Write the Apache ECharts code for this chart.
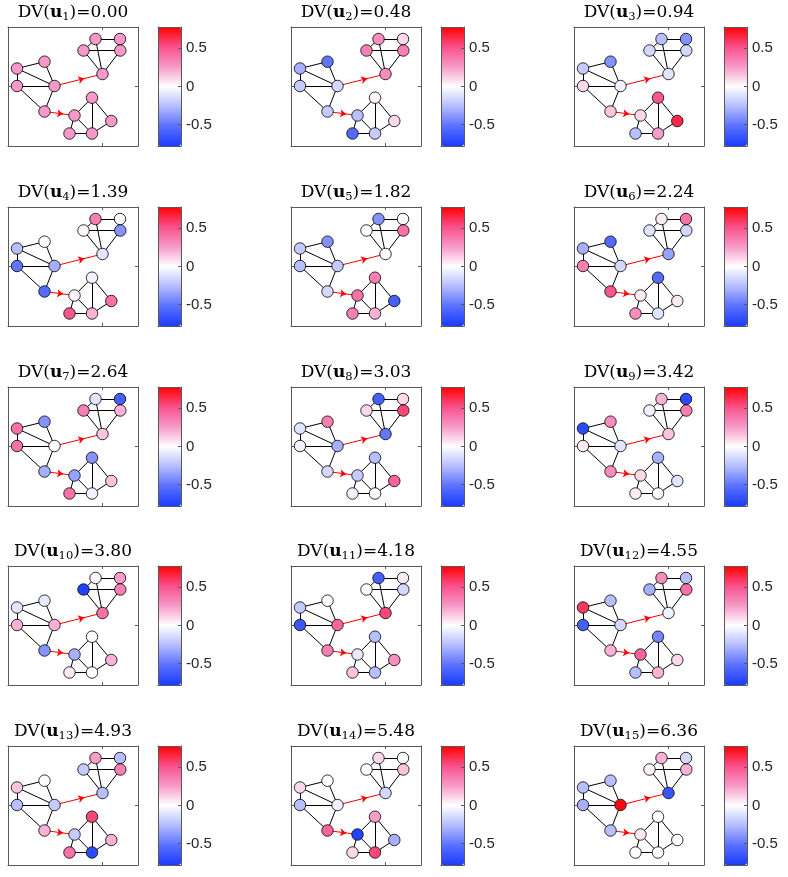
<!DOCTYPE html>
<html>
<head>
<meta charset="utf-8">
<title>DV of eigenvectors</title>
<script src="https://cdn.jsdelivr.net/npm/echarts@6/dist/echarts.min.js"></script>
<style>
html, body { margin: 0; padding: 0; background: #fff; }
#main { width: 788px; height: 877px; }
</style>
</head>
<body>
<div id="main"></div>
<script>
// graph layout (15 nodes: left cluster, top-right cluster, bottom-right cluster)
var nodeX = [-85.5, -58, -85.5, -48, -58,  -7, 17.5, -19, 17.8, 0,  -10.5, -28, 8.8, -33, -10.5];
var nodeY = [17.5, 24.3, 0, 0, -25.5,  47, 47, 35.5, 35.5, 12,  -11.7, -29.5, -35, -47.5, -47.5];
var edges = [[0,1],[0,2],[0,3],[1,3],[2,3],[2,4],[3,4],
             [5,6],[5,7],[5,9],[7,8],[7,9],[8,9],
             [10,11],[10,14],[10,12],[11,13],[11,14],[13,14],[12,14]];
var arcs = [[3,9],[4,11]];

// DV value of each eigenvector
var dv = [0.00, 0.48, 0.94, 1.39, 1.82, 2.24, 2.64, 3.03, 3.42, 3.80, 4.18, 4.55, 4.93, 5.48, 6.36];

// eigenvector entries per node
var u1  = [0.26, 0.26, 0.26, 0.26, 0.26, 0.26, 0.26, 0.26, 0.26, 0.26, 0.26, 0.26, 0.26, 0.26, 0.26];
var u2  = [-0.3, -0.5, -0.2, -0.15, -0.2, 0.3, 0.1, 0.35, 0.35, 0.3, 0.03, -0.25, 0.1, -0.55, -0.2];
var u3  = [-0.2, -0.4, 0.1, -0.05, 0.15, -0.25, -0.4, -0.15, -0.15, -0.1, 0.5, 0.1, 0.65, -0.25, 0.25];
var u4  = [-0.25, 0.0, -0.5, -0.3, -0.55, 0.35, 0.02, 0.02, -0.4, -0.1, -0.05, 0.02, 0.4, 0.5, 0.2];
var u5  = [-0.2, -0.4, -0.25, -0.2, -0.15, -0.4, 0.0, 0.0, 0.4, 0.0, 0.35, 0.4, -0.6, 0.35, 0.2];
var u6  = [-0.3, -0.55, 0.35, -0.15, 0.5, 0.05, 0.4, -0.1, -0.15, -0.35, -0.55, 0.05, 0.05, 0.3, -0.1];
var u7  = [0.4, -0.4, 0.4, 0.0, -0.3, -0.1, -0.6, 0.35, 0.2, 0.15, -0.4, -0.35, 0.15, 0.4, -0.05];
var u8  = [-0.1, 0.35, -0.05, -0.3, -0.15, -0.6, 0.1, 0.1, 0.55, -0.5, -0.25, -0.2, 0.45, -0.05, 0.0];
var u9  = [-0.7, 0.3, 0.05, -0.1, 0.3, 0.2, -0.7, -0.05, 0.35, 0.15, -0.3, 0.1, -0.1, 0.05, 0.0];
var u10 = [-0.1, -0.08, 0.2, 0.2, -0.4, 0.03, 0.25, -0.75, 0.35, 0.4, 0.0, -0.3, 0.2, 0.05, 0.0];
var u11 = [-0.2, 0.0, -0.65, 0.45, 0.35, -0.6, 0.05, 0.0, -0.15, 0.55, -0.25, -0.08, 0.3, 0.15, -0.25];
var u12 = [0.6, -0.25, -0.6, -0.15, 0.2, 0.3, -0.25, -0.3, 0.4, -0.05, -0.45, 0.45, 0.1, -0.25, 0.2];
var u13 = [0.15, 0.0, -0.25, -0.2, 0.2, 0.25, -0.25, -0.2, 0.35, -0.25, 0.55, -0.2, 0.2, 0.4, -0.7];
var u14 = [0.1, 0.0, -0.25, -0.05, 0.45, 0.1, 0.0, 0.0, 0.15, -0.15, 0.25, -0.75, -0.3, 0.1, 0.55];
var u15 = [-0.25, -0.25, -0.3, 0.75, -0.25, 0.2, -0.15, 0.03, 0.2, -0.65, 0.0, 0.05, 0.0, 0.0, 0.0];
var vectors = [u1, u2, u3, u4, u5, u6, u7, u8, u9, u10, u11, u12, u13, u14, u15];

var cbTicks = [-0.5, 0, 0.5];
var cbRange = [-0.78, 0.78];
var cmap = ['#1a3cff', '#5a70ff', '#b4bcff', '#ffffff', '#f799c8', '#f8508a', '#ff0000'];

var colLeft = [8, 291, 574];
var rowTop = [27, 207, 387, 566, 746];
var boxW = 130, boxH = 119, cbOff = 150, cbW = 23;
var frame = { color: '#595959', width: 1 };

var grid = [], xAxis = [], yAxis = [], series = [], title = [], visualMap = [];

function boxAxis(gi, pos, min, max, tickVals, showLabels) {
    return {
        gridIndex: gi, type: 'value', position: pos, min: min, max: max, z: 10,
        axisLine: { show: true, onZero: false, lineStyle: frame },
        axisTick: { show: tickVals.length > 0, inside: true, length: 3, customValues: tickVals, lineStyle: frame },
        axisLabel: {
            show: !!showLabels, customValues: tickVals, margin: 5,
            color: '#262626', fontFamily: 'Liberation Sans', fontSize: 15
        },
        splitLine: { show: false }
    };
}

function lerp(a, b, t) {
    return [nodeX[a] + (nodeX[b] - nodeX[a]) * t, nodeY[a] + (nodeY[b] - nodeY[a]) * t];
}

var rich = {
    n: { fontFamily: 'DejaVu Serif', fontSize: 17, fontWeight: 'normal', color: '#000', lineHeight: 21 },
    b: { fontFamily: 'DejaVu Serif', fontSize: 17, fontWeight: 'bold', color: '#000', lineHeight: 21 },
    s: { fontFamily: 'DejaVu Serif', fontSize: 11.5, fontWeight: 'normal', color: '#000', lineHeight: 12, verticalAlign: 'bottom' }
};

vectors.forEach(function (vec, k) {
    var r = Math.floor(k / 3), c = k % 3;
    var left = colLeft[c], top = rowTop[r];
    var g = grid.length;
    grid.push({ left: left, top: top, width: boxW, height: boxH });
    grid.push({ left: left + cbOff, top: top, width: cbW, height: boxH });
    var ax = xAxis.length;

    // panel frame with centre ticks
    xAxis.push(boxAxis(g, 'bottom', -94.5, 35.5, [0]));
    xAxis.push(boxAxis(g, 'top', -94.5, 35.5, [0]));
    yAxis.push(boxAxis(g, 'left', -60, 59, [0]));
    yAxis.push(boxAxis(g, 'right', -60, 59, [0]));
    // colour bar frame
    xAxis.push(boxAxis(g + 1, 'bottom', 0, 1, []));
    xAxis.push(boxAxis(g + 1, 'top', 0, 1, []));
    yAxis.push(boxAxis(g + 1, 'left', cbRange[0], cbRange[1], []));
    yAxis.push(boxAxis(g + 1, 'right', cbRange[0], cbRange[1], cbTicks, true));

    title.push({
        text: '{n|DV(}{b|u}{s|' + (k + 1) + '}{n|)=' + dv[k].toFixed(2) + '}',
        left: left + boxW / 2, top: top - 25, textAlign: 'center', padding: 0,
        textStyle: { fontWeight: 'normal', rich: rich }
    });

    series.push({
        type: 'lines', coordinateSystem: 'cartesian2d', xAxisIndex: ax, yAxisIndex: ax,
        silent: true, z: 2, symbol: 'none',
        lineStyle: { color: '#000', width: 1, opacity: 1 },
        data: edges.map(function (e) {
            return { coords: [[nodeX[e[0]], nodeY[e[0]]], [nodeX[e[1]], nodeY[e[1]]]] };
        })
    });
    series.push({
        type: 'lines', coordinateSystem: 'cartesian2d', xAxisIndex: ax, yAxisIndex: ax,
        silent: true, z: 2, symbol: ['none', 'arrow'], symbolSize: 6,
        lineStyle: { color: '#ff0000', width: 1, opacity: 1 },
        data: arcs.map(function (e) {
            return { coords: [[nodeX[e[0]], nodeY[e[0]]], lerp(e[0], e[1], 0.62)] };
        })
    });
    series.push({
        type: 'lines', coordinateSystem: 'cartesian2d', xAxisIndex: ax, yAxisIndex: ax,
        silent: true, z: 2, symbol: 'none',
        lineStyle: { color: '#ff0000', width: 1, opacity: 1 },
        data: arcs.map(function (e) {
            return { coords: [lerp(e[0], e[1], 0.55), [nodeX[e[1]], nodeY[e[1]]]] };
        })
    });
    var si = series.length;
    series.push({
        type: 'scatter', xAxisIndex: ax, yAxisIndex: ax, z: 5,
        symbolSize: 11.5,
        itemStyle: { borderColor: '#000', borderWidth: 0.8, opacity: 1 },
        data: vec.map(function (v, i) { return [nodeX[i], nodeY[i], v]; })
    });

    visualMap.push({
        type: 'continuous', seriesIndex: si, dimension: 2,
        min: cbRange[0], max: cbRange[1], inRange: { color: cmap },
        orient: 'vertical', left: left + cbOff, top: top,
        itemWidth: cbW, itemHeight: boxH, padding: 0,
        calculable: false, hoverLink: false, text: null, z: 4
    });
});

var chart = echarts.init(document.getElementById('main'));
chart.setOption({
    animation: false,
    backgroundColor: '#fff',
    title: title,
    grid: grid,
    xAxis: xAxis,
    yAxis: yAxis,
    visualMap: visualMap,
    series: series
});
</script>
</body>
</html>
